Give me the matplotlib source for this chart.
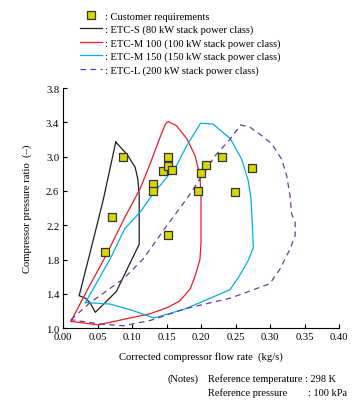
import numpy as np
import matplotlib
matplotlib.use("Agg")
import matplotlib.pyplot as plt

plt.rcParams["font.family"] = ["Liberation Serif", "DejaVu Serif"]

# customer requirement points (kg/s, pressure ratio)
req_flow = [0.087, 0.070, 0.060, 0.130, 0.130, 0.145, 0.152, 0.152, 0.157, 0.152,
            0.195, 0.200, 0.207, 0.230, 0.249, 0.274]
req_ratio = [3.00, 2.30, 1.89, 2.68, 2.60, 2.83, 3.00, 2.89, 2.84, 2.09,
             2.60, 2.81, 2.90, 3.00, 2.585, 2.865]

# ETC-S (80 kW)
s_flow = [0.076, 0.092, 0.104, 0.108, 0.110, 0.110, 0.077, 0.0464, 0.039, 0.032,
          0.023, 0.040, 0.058, 0.076]
s_ratio = [3.17, 3.03, 2.88, 2.74, 2.55, 1.98, 1.43, 1.186, 1.295, 1.35,
           1.38, 1.92, 2.50, 3.17]

# ETC-M 100 (100 kW)
m100_flow = [0.011, 0.035, 0.062, 0.089, 0.111, 0.126, 0.140, 0.148, 0.152, 0.164,
             0.179, 0.191, 0.198, 0.1996, 0.1996, 0.1996, 0.198, 0.191, 0.184,
             0.169, 0.152, 0.126, 0.101, 0.051, 0.011]
m100_ratio = [1.08, 1.45, 1.85, 2.29, 2.62, 2.92, 3.22, 3.38, 3.41, 3.36,
              3.21, 3.01, 2.78, 2.55, 2.27, 2.00, 1.80, 1.61, 1.46,
              1.32, 1.245, 1.17, 1.128, 1.04, 1.08]

# ETC-M 150 (150 kW)
m150_flow = [0.032, 0.068, 0.089, 0.111, 0.130, 0.164, 0.179, 0.199, 0.217, 0.242,
             0.2585, 0.268, 0.272, 0.274, 0.2754, 0.268, 0.2536, 0.2416, 0.1764,
             0.1315, 0.1014, 0.0676, 0.032]
m150_ratio = [1.30, 1.81, 2.16, 2.35, 2.565, 2.895, 3.13, 3.39, 3.38, 3.21,
              2.97, 2.72, 2.51, 2.20, 1.94, 1.79, 1.59, 1.45, 1.225,
              1.12, 1.205, 1.283, 1.30]

# ETC-L (200 kW)
l_flow = [0.011, 0.039, 0.053, 0.087, 0.116, 0.150, 0.179, 0.198, 0.220, 0.242,
          0.257, 0.2705, 0.2875, 0.302, 0.3165, 0.3237, 0.3286, 0.331, 0.336,
          0.336, 0.3286, 0.314, 0.304, 0.2995, 0.2416, 0.1788, 0.1257, 0.087,
          0.053, 0.011]
l_ratio = [1.10, 1.30, 1.38, 1.575, 1.81, 2.196, 2.51, 2.74, 3.01, 3.206,
           3.37, 3.343, 3.245, 3.15, 2.97, 2.78, 2.545, 2.33, 2.235,
           2.08, 1.924, 1.69, 1.575, 1.52, 1.35, 1.233, 1.09, 1.03,
           1.05, 1.10]

legend_labels = [": Customer requirements",
                 ": ETC-S (80 kW stack power class)",
                 ": ETC-M 100 (100 kW stack power class)",
                 ": ETC-M 150 (150 kW stack power class)",
                 ": ETC-L (200 kW stack power class)"]

fs = 7.7
fs_note = 7.45

fig = plt.figure(figsize=(3.64, 4.06), dpi=100)
ax = fig.add_axes([63.3 / 364, 1 - 329.3 / 406, 276 / 364, 240.3 / 406])

lw = 0.9
l1, = ax.plot(s_flow, s_ratio, color="#231f20", lw=lw)
l2, = ax.plot(m100_flow, m100_ratio, color="#ed1c24", lw=lw)
l3, = ax.plot(m150_flow, m150_ratio, color="#00aeef", lw=lw)
l4, = ax.plot(l_flow, l_ratio, color="#6a3a9c", lw=lw, dashes=(4.5, 3.5))
sc, = ax.plot(req_flow, req_ratio, ls="none", marker="s", ms=5.4,
              mfc="#d6d800", mec="#333333", mew=0.9, zorder=5)

ax.set_xlim(0, 0.40)
ax.set_ylim(1.0, 3.8)
ax.set_xticks(np.arange(0, 0.401, 0.05))
ax.set_xticklabels(["%.2f" % v for v in np.arange(0, 0.401, 0.05)])
ax.set_yticks(np.arange(1.0, 3.81, 0.4))
ax.set_yticklabels(["%.1f" % v for v in np.arange(1.0, 3.81, 0.4)])
ax.tick_params(direction="in", length=3, width=0.8, labelsize=fs, pad=3)
for side in ["top", "right"]:
    ax.spines[side].set_visible(False)
for side in ["left", "bottom"]:
    ax.spines[side].set_linewidth(0.8)

ax.set_xlabel("Corrected compressor flow rate  (kg/s)", fontsize=fs, labelpad=7)
ax.set_ylabel("Compressor pressure ratio  (–)", fontsize=fs, labelpad=10)

leg = fig.legend([sc, l1, l2, l3, l4], legend_labels, loc="upper left",
                 bbox_to_anchor=(80 / 364, 1 - 12.5 / 406), frameon=False,
                 fontsize=7.6, handlelength=2.05, handletextpad=0.35,
                 labelspacing=0.36, borderpad=0, borderaxespad=0)

fig.text(168 / 364, 1 - 379.5 / 406, "(Notes)", fontsize=fs_note, va="center")
fig.text(208 / 364, 1 - 379.5 / 406, "Reference temperature", fontsize=fs_note, va="center")
fig.text(305 / 364, 1 - 379.5 / 406, ": 298 K", fontsize=fs_note, va="center")
fig.text(208 / 364, 1 - 393.5 / 406, "Reference pressure", fontsize=fs_note, va="center")
fig.text(308 / 364, 1 - 393.5 / 406, ": 100 kPa", fontsize=fs_note, va="center")

fig.savefig("out.png", dpi=100)
